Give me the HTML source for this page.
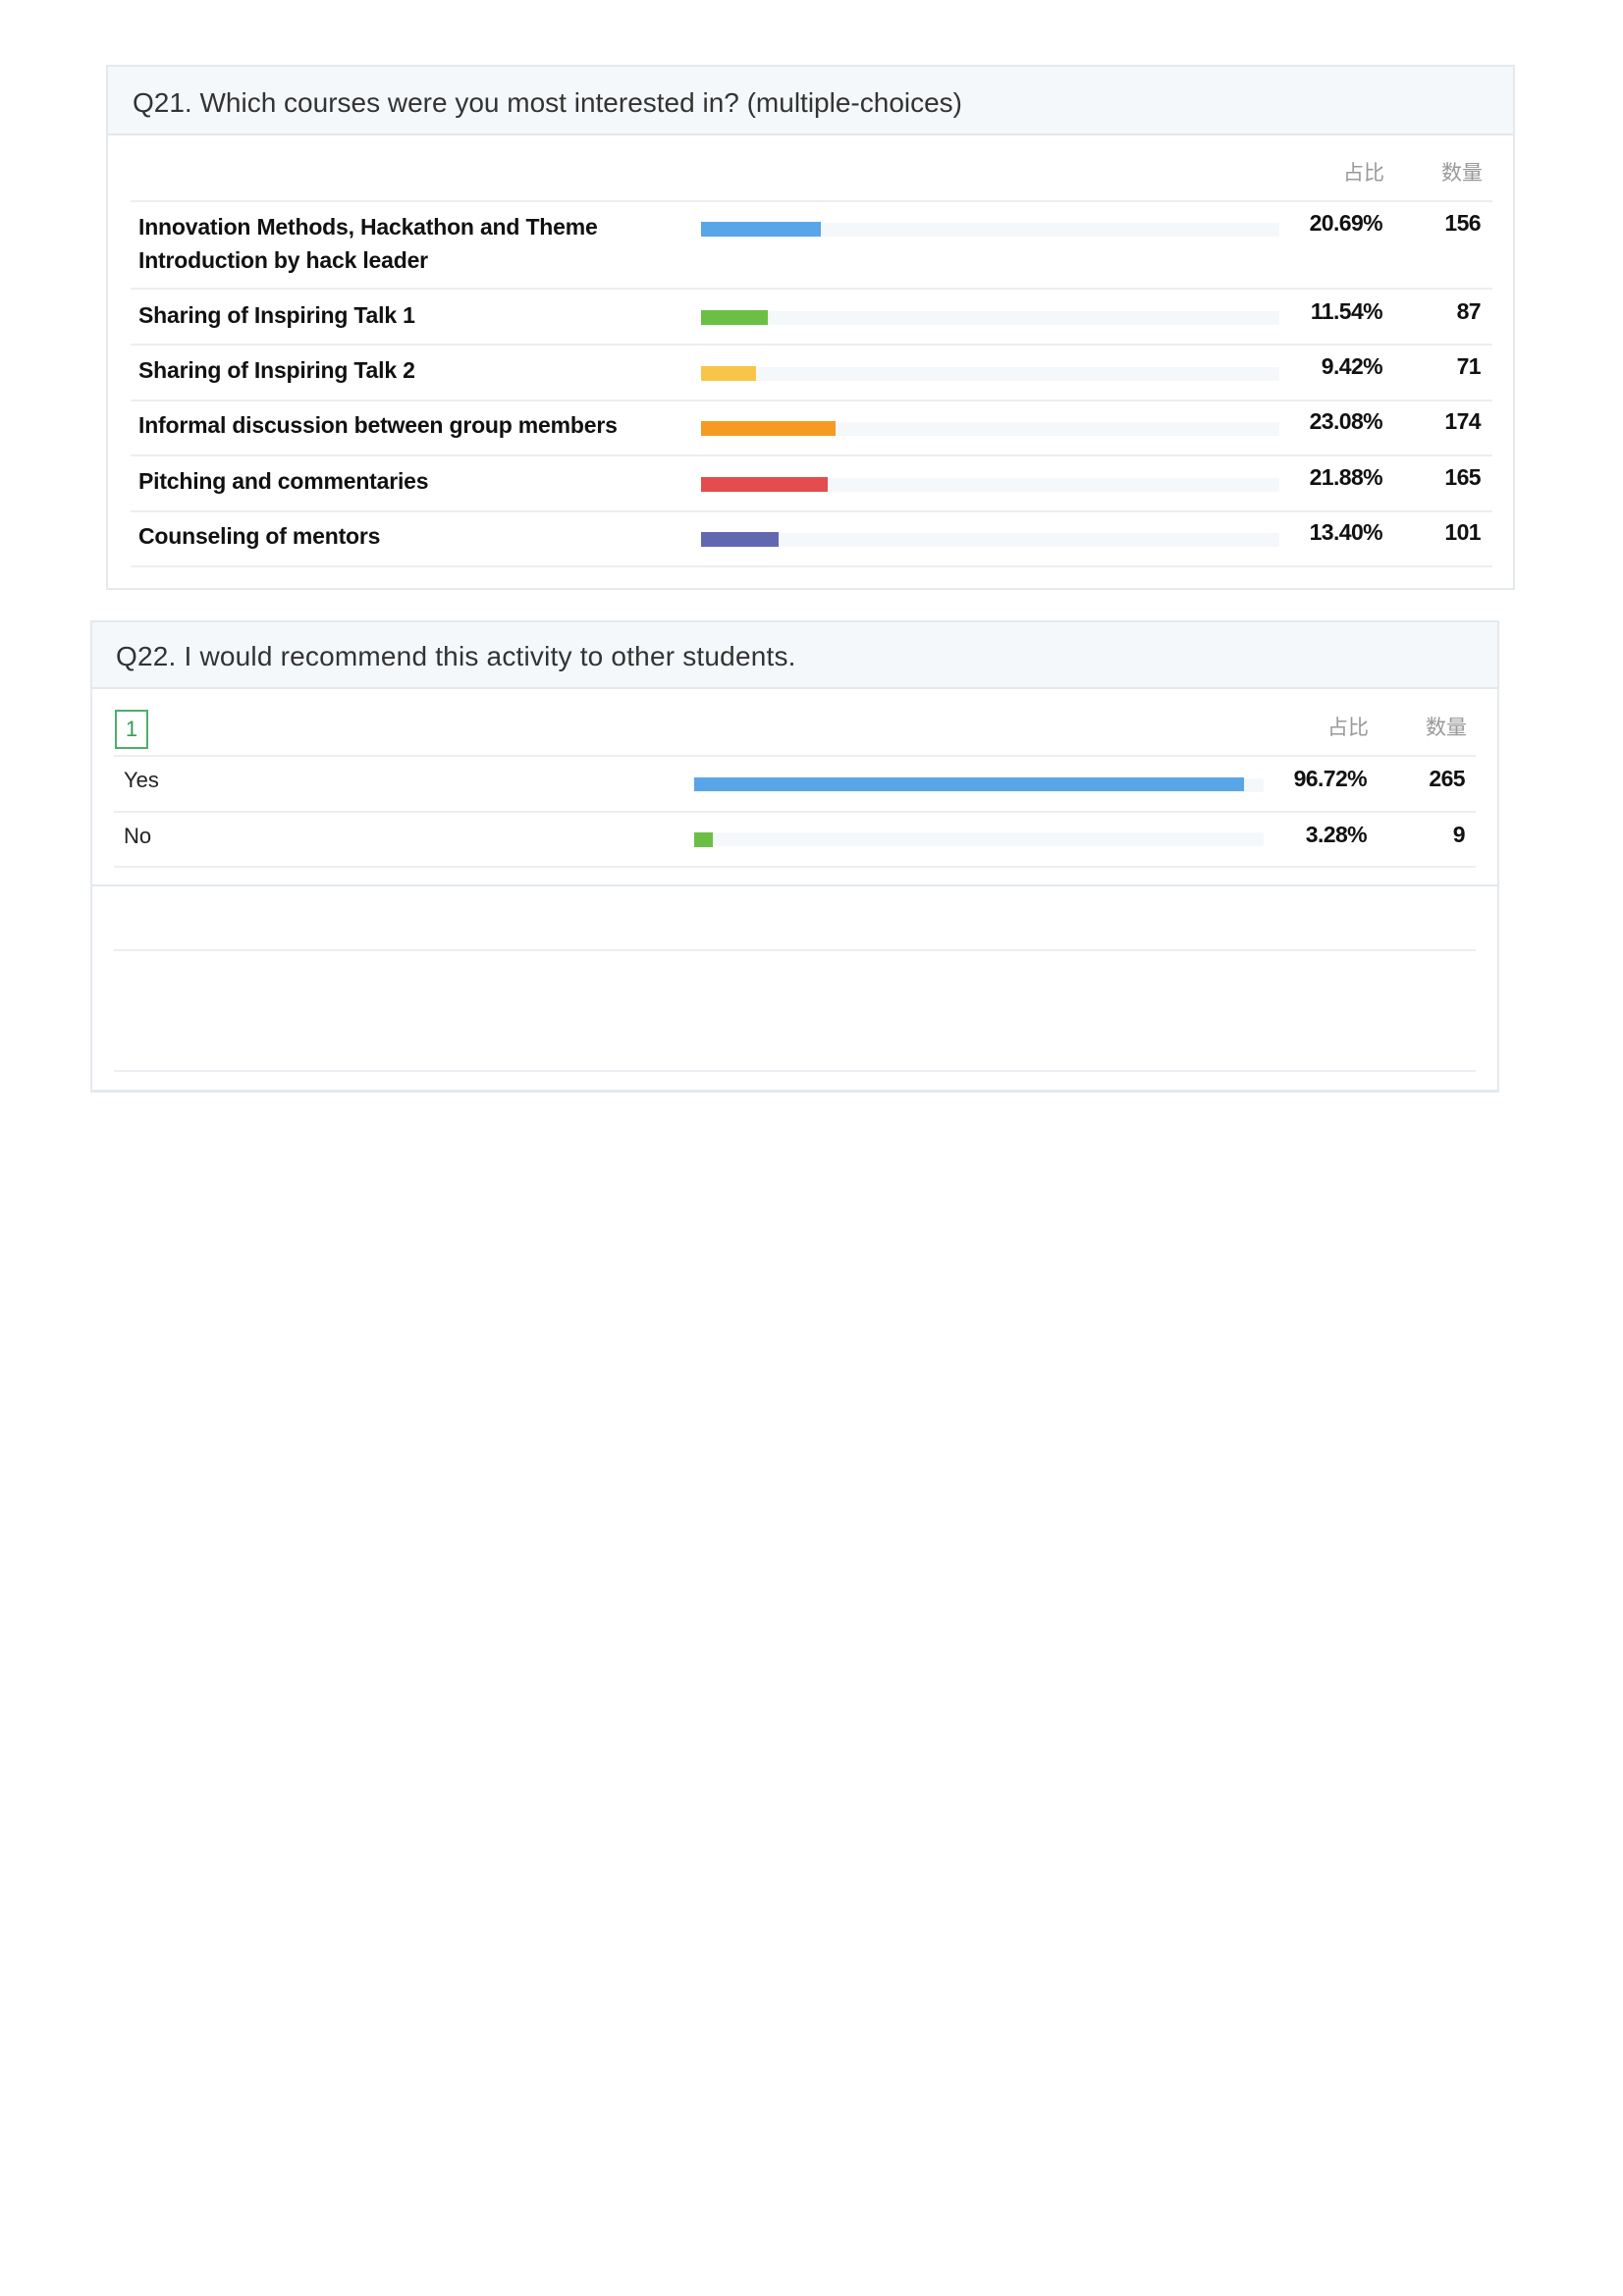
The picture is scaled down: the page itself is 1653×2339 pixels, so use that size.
<!DOCTYPE html>
<html><head><meta charset="utf-8"><style>
*{margin:0;padding:0;box-sizing:border-box}
body{width:1653px;height:2339px;background:#fff;position:relative;font-family:"Liberation Sans","Noto Sans CJK SC",sans-serif;color:#222;overflow:hidden}
.a{position:absolute}
.box{position:absolute;border:2px solid #e4e9ee;background:#fff}
.hd{position:absolute;background:#f5f8fb;border-bottom:2px solid #e3e8ee}
.line{position:absolute;height:2px;background:#ebeef2}
.lbl{position:absolute;font-size:23px;font-weight:bold;letter-spacing:-0.2px;line-height:34px;color:#111}
.num{position:absolute;font-size:23px;font-weight:bold;letter-spacing:-0.6px;text-align:right;color:#111;line-height:30px}
.trk{position:absolute;height:14px;background:#f5f8fb}
.bar{position:absolute;height:15px}
.th{position:absolute;font-size:21px;color:#999;text-align:right;line-height:30px}
</style></head><body>

<div class="box" style="left:108px;top:66px;width:1435px;height:535px"></div>
<div class="hd" style="left:110px;top:68px;width:1431px;height:70px"></div>
<div class="a" style="left:135px;top:88px;font-size:28px;color:#333;line-height:34px">Q21. Which courses were you most interested in? (multiple-choices)</div>
<div class="th" style="left:1332px;top:162px;width:78px">占比</div>
<div class="th" style="left:1430px;top:162px;width:80px">数量</div>
<div class="line" style="left:133px;top:204px;width:1387px"></div>
<div class="line" style="left:133px;top:293px;width:1387px"></div>
<div class="line" style="left:133px;top:350px;width:1387px"></div>
<div class="line" style="left:133px;top:407px;width:1387px"></div>
<div class="line" style="left:133px;top:463px;width:1387px"></div>
<div class="line" style="left:133px;top:520px;width:1387px"></div>
<div class="line" style="left:133px;top:576px;width:1387px"></div>

<div class="lbl" style="left:141px;top:214px">Innovation Methods, Hackathon and Theme<br>Introduction by hack leader</div>
<div class="lbl" style="left:141px;top:304px">Sharing of Inspiring Talk 1</div>
<div class="lbl" style="left:141px;top:360px">Sharing of Inspiring Talk 2</div>
<div class="lbl" style="left:141px;top:416px">Informal discussion between group members</div>
<div class="lbl" style="left:141px;top:473px">Pitching and commentaries</div>
<div class="lbl" style="left:141px;top:529px">Counseling of mentors</div>

<div class="trk" style="left:714px;top:227px;width:589px"></div><div class="bar" style="left:714px;top:226px;width:122px;background:#58a5e8"></div>
<div class="trk" style="left:714px;top:317px;width:589px"></div><div class="bar" style="left:714px;top:316px;width:68px;background:#6cbf45"></div>
<div class="trk" style="left:714px;top:374px;width:589px"></div><div class="bar" style="left:714px;top:373px;width:56px;background:#f9c44a"></div>
<div class="trk" style="left:714px;top:430px;width:589px"></div><div class="bar" style="left:714px;top:429px;width:137px;background:#f59a23"></div>
<div class="trk" style="left:714px;top:487px;width:589px"></div><div class="bar" style="left:714px;top:486px;width:129px;background:#e34d4d"></div>
<div class="trk" style="left:714px;top:543px;width:589px"></div><div class="bar" style="left:714px;top:542px;width:79px;background:#6168b0"></div>

<div class="num" style="left:1300px;top:212px;width:108px">20.69%</div><div class="num" style="left:1430px;top:212px;width:78px">156</div>
<div class="num" style="left:1300px;top:302px;width:108px">11.54%</div><div class="num" style="left:1430px;top:302px;width:78px">87</div>
<div class="num" style="left:1300px;top:358px;width:108px">9.42%</div><div class="num" style="left:1430px;top:358px;width:78px">71</div>
<div class="num" style="left:1300px;top:414px;width:108px">23.08%</div><div class="num" style="left:1430px;top:414px;width:78px">174</div>
<div class="num" style="left:1300px;top:471px;width:108px">21.88%</div><div class="num" style="left:1430px;top:471px;width:78px">165</div>
<div class="num" style="left:1300px;top:527px;width:108px">13.40%</div><div class="num" style="left:1430px;top:527px;width:78px">101</div>

<div class="box" style="left:92px;top:632px;width:1435px;height:481px;border-bottom-width:3px"></div>
<div class="hd" style="left:94px;top:634px;width:1431px;height:68px"></div>
<div class="a" style="left:118px;top:652px;font-size:28px;letter-spacing:0.2px;color:#333;line-height:34px">Q22. I would recommend this activity to other students.</div>
<div class="a" style="left:117px;top:723px;width:34px;height:40px;border:2px solid #4caf6a;color:#3a9a58;font-size:22px;text-align:center;line-height:36px">1</div>
<div class="th" style="left:1316px;top:727px;width:78px">占比</div>
<div class="th" style="left:1414px;top:727px;width:80px">数量</div>
<div class="line" style="left:116px;top:769px;width:1387px"></div>
<div class="line" style="left:116px;top:826px;width:1387px"></div>
<div class="line" style="left:116px;top:882px;width:1387px"></div>
<div class="line" style="left:94px;top:901px;width:1431px;background:#e3e8ee"></div>
<div class="line" style="left:116px;top:967px;width:1387px"></div>
<div class="line" style="left:116px;top:1090px;width:1387px"></div>

<div class="a" style="left:126px;top:780px;font-size:22px;line-height:30px;color:#222">Yes</div>
<div class="a" style="left:126px;top:837px;font-size:22px;line-height:30px;color:#222">No</div>
<div class="trk" style="left:707px;top:793px;width:580px"></div><div class="bar" style="left:707px;top:792px;width:560px;background:#58a5e8;height:14px"></div>
<div class="trk" style="left:707px;top:848px;width:580px"></div><div class="bar" style="left:707px;top:848px;width:19px;background:#6cbf45"></div>
<div class="num" style="left:1280px;top:778px;width:112px">96.72%</div><div class="num" style="left:1414px;top:778px;width:78px">265</div>
<div class="num" style="left:1280px;top:835px;width:112px">3.28%</div><div class="num" style="left:1414px;top:835px;width:78px">9</div>
</body></html>
